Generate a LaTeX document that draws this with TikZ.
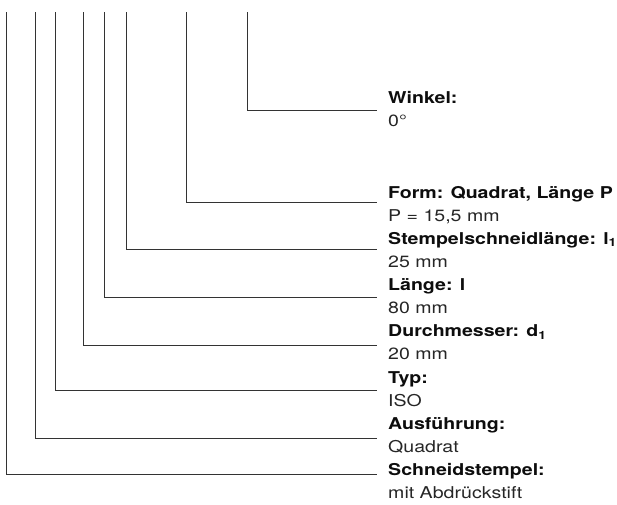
\documentclass[tikz,border=0pt]{standalone}
\usepackage{fontspec}
\setmainfont[FakeStretch=1.2]{TeX Gyre Heros}
\usepackage{tikz}

\tikzset{
  legline/.style={draw=black!80, line width=0.9pt},
  legtitle/.style={anchor=base west, inner sep=0pt, text=black!95,
    font=\fontsize{16.3}{19}\selectfont\bfseries},
  legvalue/.style={anchor=base west, inner sep=0pt, text=black!85,
    font=\fontsize{16.3}{19}\selectfont},
}

\begin{document}
\begin{tikzpicture}[x=1pt, y=-1pt]
\useasboundingbox (0,0) rectangle (617,504);

% x of riser / y of leader / title baseline / title / value
\foreach \lx/\ly/\by/\ttl/\val [count=\i] in {
  247/110/103/{Winkel:}/{0°},
  186/202.3/198/{Form: Quadrat, Länge P}/{P = 15,5 mm},
  126/249/244/{Stempelschneidlänge: l\textsubscript{1}}/{25 mm},
  104/297.5/290/{Länge: l}/{80 mm},
  83/345/336.6/{Durchmesser: d\textsubscript{1}}/{20 mm},
  55/390.3/383/{Typ:}/{ISO},
  35/438.3/429.5/{Ausführung:}/{Quadrat},
  6/474/475/{Schneidstempel:}/{mit Abdrückstift}}{
  % leader line
  \coordinate (top\i) at (\lx,12);
  \coordinate (end\i) at (377,\ly);
  \draw[legline] (top\i) |- (end\i);
  % labels
  \node (title\i) [legtitle] at (388,\by) {\ttl};
  \node (value\i) [legvalue] at ([yshift=-23.1pt]title\i.base west) {\val};
}

\end{tikzpicture}
\end{document}
